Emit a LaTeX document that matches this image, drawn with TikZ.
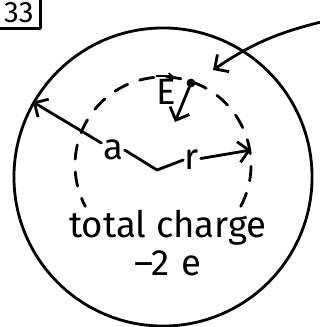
\documentclass[tikz,border=0pt]{standalone}
\usepackage{amsmath}
\usepackage{fontspec}
\setmainfont{Fira Sans}
\usetikzlibrary{arrows.meta,positioning}

\begin{document}
\begin{tikzpicture}[
    x=0.025cm, y=-0.025cm,
    >={Straight Barb[length=2.6mm,width=5.2mm]},
    ink/.style={line width=2pt, line cap=round, line join=round},
    hand/.style={font=\fontsize{26}{29}\selectfont, inner sep=1pt},
    numbox/.style={draw, ink, font=\fontsize{21}{23}\selectfont,
      inner xsep=5pt, inner ysep=4pt},
    gauss/.style={ink, dash pattern=on 0.36cm off 0.32cm},
  ]
  \useasboundingbox (0,0) rectangle (320,327);

  % Problem number
  \node[numbox, anchor=south east] (num) at (42,30) {33};

  % Outer sphere
  \node[ink, draw, circle, minimum size=7.45cm] (shell) at (163,177) {};

  % Gaussian surface (dashed)
  \coordinate (dc) at (163,165);
  \draw[gauss] (dc) ++(-28:2.2cm) arc[start angle=-28, end angle=208, radius=2.2cm];

  % Radii
  \coordinate (ctr) at (157,170);
  \node[hand] (alab) at (113,150) {a};
  \node[hand] (rlab) at (192,160) {r};
  \coordinate (reach) at (251,150);
  \draw[ink] (alab.east) -- (ctr) -- (rlab.west);
  \draw[->, ink] (alab) -- (shell.150);
  \draw[->, ink] (rlab) -- (reach);

  % Field point and E
  \node[circle, fill, inner sep=0pt, minimum size=0.22cm] (probe) at (191,83) {};
  \node[hand] (elab) at (166,92) {E};
  \draw[->, line width=1.2pt, >={Straight Barb[length=1mm,width=1.6mm]}]
    (elab.north west) ++(1pt,1pt) -- ++(0.45cm,0);
  \coordinate (etip) at (175,122);
  \draw[->, ink] (probe) -- (etip);

  % Pointer from outside
  \coordinate (from) at (321,22);
  \coordinate (tip) at (213,70);
  \draw[->, ink] (from) to[bend right=10] (tip);

  % Charge
  \node[hand] (total) at (168,228) {total charge};
  \node[hand, below=1pt of total] (qtot) {–2\,\,e};
\end{tikzpicture}
\end{document}
